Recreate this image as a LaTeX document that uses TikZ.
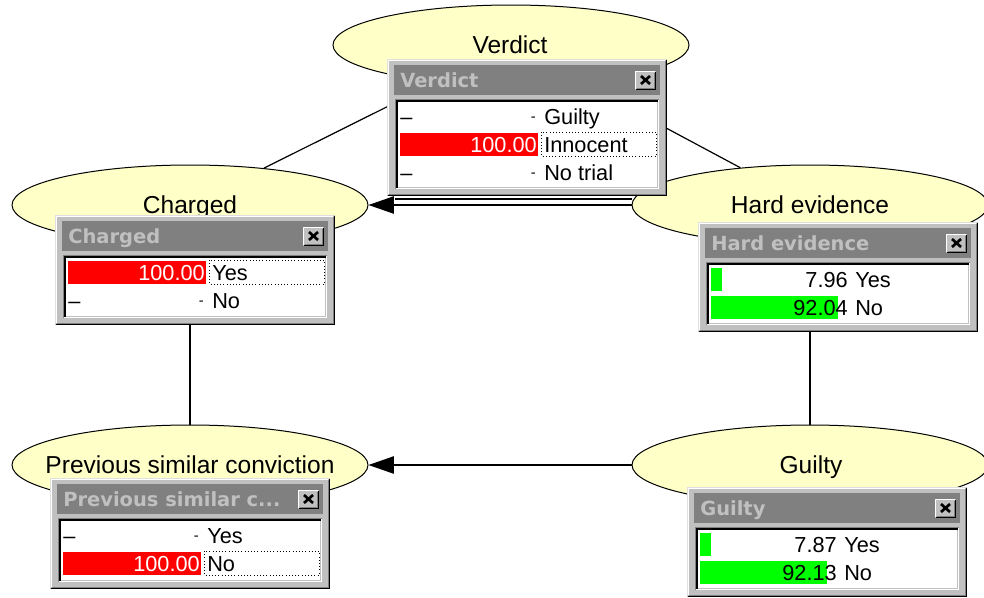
\documentclass[tikz,border=0pt]{standalone}
\usepackage{fontspec}
\setmainfont{Liberation Sans}
\newfontfamily\wintitlefont{DejaVu Sans}
\usetikzlibrary{shapes.geometric,arrows.meta}

\definecolor{nodefill}{RGB}{255,255,200}
\definecolor{winface}{RGB}{192,192,192}
\definecolor{winshade}{RGB}{128,128,128}
\definecolor{winlight}{RGB}{223,223,223}
\definecolor{barred}{RGB}{255,0,0}
\definecolor{bargreen}{RGB}{0,255,0}

\pgfdeclarelayer{links}
\pgfsetlayers{links,main}

% monitor window: name, left, top, height, title
\newcommand{\monwin}[5]{%
  \fill[winface] (#2,#3) rectangle ({#2+280},{#3+#4});
  \draw[winlight] ({#2+0.5},{#3+#4-1}) -- ({#2+0.5},{#3+0.5}) -- ({#2+279},{#3+0.5});
  \draw[white] ({#2+1.5},{#3+#4-2}) -- ({#2+1.5},{#3+1.5}) -- ({#2+278},{#3+1.5});
  \draw[black] ({#2+0.5},{#3+#4-0.5}) -- ({#2+279.5},{#3+#4-0.5}) -- ({#2+279.5},{#3+0.5});
  \draw[winshade] ({#2+1.5},{#3+#4-1.5}) -- ({#2+278.5},{#3+#4-1.5}) -- ({#2+278.5},{#3+1.5});
  \fill[winshade] ({#2+7},{#3+6}) rectangle ({#2+273},{#3+36});
  \node[wintitle] (#1-title) at ({#2+13},{#3+28}) {#5};
  % close button
  \fill[winface] ({#2+248},{#3+12}) rectangle ({#2+269},{#3+31});
  \draw[white] ({#2+248.5},{#3+30}) -- ({#2+248.5},{#3+12.5}) -- ({#2+268},{#3+12.5});
  \draw[black] ({#2+248.5},{#3+30.5}) -- ({#2+268.5},{#3+30.5}) -- ({#2+268.5},{#3+12.5});
  \draw[winshade] ({#2+249.5},{#3+29.5}) -- ({#2+267.5},{#3+29.5}) -- ({#2+267.5},{#3+13.5});
  \draw[closex] ({#2+254},{#3+17}) -- ({#2+263},{#3+25}) ({#2+254},{#3+25}) -- ({#2+263},{#3+17});
  % sunken panel with the states
  \fill[white] ({#2+8},{#3+40}) rectangle ({#2+272},{#3+#4-7});
  \draw[winshade] ({#2+8.5},{#3+#4-7}) -- ({#2+8.5},{#3+40.5}) -- ({#2+272},{#3+40.5});
  \draw[black, line width=1.5pt] ({#2+10},{#3+#4-8}) -- ({#2+10},{#3+42}) -- ({#2+271},{#3+42});
  \draw[winface] ({#2+10.5},{#3+#4-8.5}) -- ({#2+270.5},{#3+#4-8.5}) -- ({#2+270.5},{#3+43});
}
% state without a value: name, left, row, state
\newcommand{\monnone}[4]{%
  \node[rowtext, anchor=base west] (#1-d) at ({#2+13},{#3+8}) {–};
  \node[rowtext, anchor=base east] (#1-v) at ({#2+149},{#3+5}) {\fontsize{11}{12}\selectfont -};
  \node[rowtext, anchor=base west] (#1-s) at ({#2+157},{#3+8}) {#4};
}
% state with a bar: name, left, row, value, state, bar colour, bar length, value colour
\newcommand{\monbar}[8]{%
  \fill[#6] ({#2+13},{#3-11.5}) rectangle ({#2+13+#7},{#3+11.5});
  \node[rowtext, anchor=base east, text=#8] (#1-v) at ({#2+150},{#3+8}) {#4};
  \node[rowtext, anchor=base west] (#1-s) at ({#2+157},{#3+8}) {#5};
}
% dotted focus frame round a state
\newcommand{\monfocus}[2]{%
  \draw[black, dotted] ({#1+154},{#2-12}) rectangle ({#1+269},{#2+12});
}

\begin{document}
\begin{tikzpicture}[x=0.75pt, y=-0.75pt, line width=0.75pt,
    varnode/.style={ellipse, draw=black, fill=nodefill, minimum width=267pt, minimum height=60pt, inner sep=0pt},
    varlabel/.style={anchor=base, inner sep=0pt, font=\fontsize{18.4}{20}\selectfont},
    wintitle/.style={anchor=base west, inner sep=0pt, text=winface, font=\wintitlefont\bfseries\fontsize{14.6}{16}\selectfont},
    rowtext/.style={inner sep=0pt, font=\fontsize{16.3}{18}\selectfont},
    closex/.style={black, line width=2pt},
    link/.style={draw=black, line width=0.9pt},
    arr/.style={link, -{Triangle[length=19pt, width=13pt]}}]
  \useasboundingbox (0,0) rectangle (984,597);

  % variables
  \node[varnode] (verdict) at (511,45) {};
  \node[varnode] (charged) at (190,205) {};
  \node[varnode] (hard) at (810,205) {};
  \node[varnode] (prev) at (190,465) {};
  \node[varnode] (guilty) at (810,465) {};
  \node[varlabel] (verdict-lbl) at (510,53.5) {Verdict};
  \node[varlabel] (charged-lbl) at (190,213.5) {Charged};
  \node[varlabel] (hard-lbl) at (810,213.5) {Hard evidence};
  \node[varlabel] (prev-lbl) at (190,473.5) {Previous similar conviction};
  \node[varlabel] (guilty-lbl) at (811,473.5) {Guilty};

  % links
  \begin{pgfonlayer}{links}
    \draw[link] (charged) -- (verdict);
    \draw[link] (hard) -- (verdict);
    \draw[link] (charged) -- (prev);
    \draw[link] (hard) -- (guilty);
    \draw[arr] (hard) -- (charged);
    \draw[link] ([yshift=4.5pt]hard.west) -- ([yshift=4.5pt, xshift=20pt]charged.east);
    \draw[arr] (guilty) -- (prev);
  \end{pgfonlayer}

  % monitor windows
  \monwin{mverdict}{387}{59}{137}{Verdict}
  \monnone{mverdict-1}{387}{116}{Guilty}
  \monbar{mverdict-2}{387}{144}{100.00}{Innocent}{barred}{138}{white}
  \monfocus{387}{144}
  \monnone{mverdict-3}{387}{172}{No trial}

  \monwin{mcharged}{55}{215}{110}{Charged}
  \monbar{mcharged-1}{55}{272}{100.00}{Yes}{barred}{138}{white}
  \monfocus{55}{272}
  \monnone{mcharged-2}{55}{300}{No}

  \monwin{mhard}{698}{222}{110}{Hard evidence}
  \monbar{mhard-1}{698}{279}{7.96}{Yes}{bargreen}{11}{black}
  \monbar{mhard-2}{698}{307}{92.04}{No}{bargreen}{127}{black}

  \monwin{mprev}{50}{478}{111}{Previous similar c...}
  \monnone{mprev-1}{50}{535}{Yes}
  \monbar{mprev-2}{50}{563}{100.00}{No}{barred}{138}{white}
  \monfocus{50}{563}

  \monwin{mguilty}{687}{487}{110}{Guilty}
  \monbar{mguilty-1}{687}{544}{7.87}{Yes}{bargreen}{11}{black}
  \monbar{mguilty-2}{687}{572}{92.13}{No}{bargreen}{127}{black}
\end{tikzpicture}
\end{document}
